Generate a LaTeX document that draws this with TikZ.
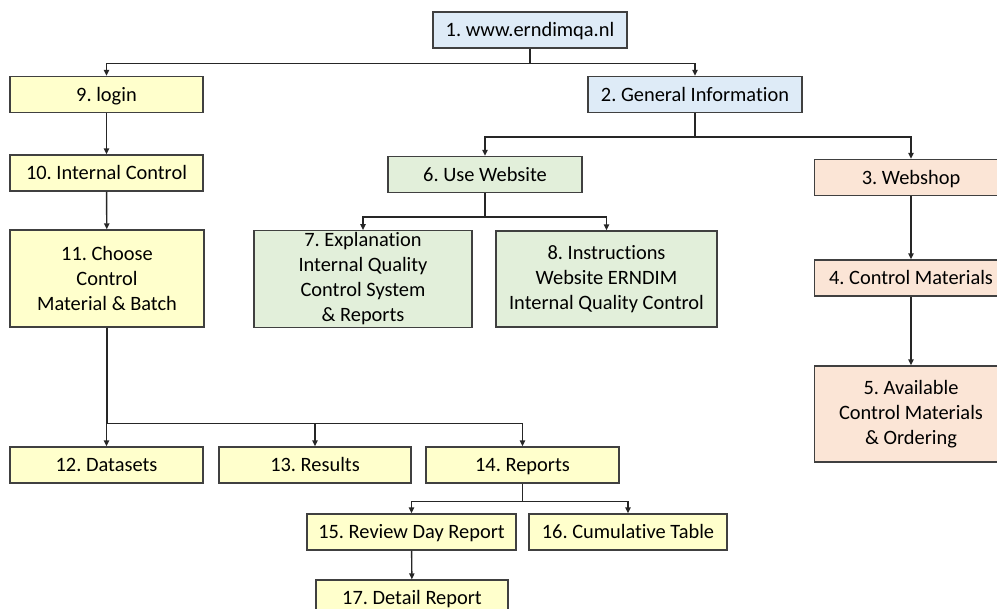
\documentclass[tikz,border=0pt]{standalone}
\usepackage{fontspec}
\setmainfont{Carlito}[Ligatures=NoCommon]
\usepackage{tikz}
\usetikzlibrary{positioning,arrows.meta}
\frenchspacing

\definecolor{bluebox}{HTML}{DEEBF7}
\definecolor{greenbox}{HTML}{E2EFDA}
\definecolor{peachbox}{HTML}{FBE5D6}
\definecolor{yellowbox}{HTML}{FFFFCC}

\begin{document}
\begin{tikzpicture}[x=0.5pt, y=-0.5pt, font=\fontsize{10.2}{12.5}\selectfont,
    >={Triangle[length=3pt,width=2.6pt]},
    box/.style = {draw=black!75, line width=0.6pt, align=center, inner sep=1pt, minimum width=96.5pt, minimum height=18pt},
    one/.style = {text height=8pt, text depth=1.4pt},
    blu/.style = {box, fill=bluebox},
    grn/.style = {box, fill=greenbox},
    pch/.style = {box, fill=peachbox},
    yel/.style = {box, fill=yellowbox},
    link/.style = {->, draw=black!85, line width=0.7pt}]
            \clip (0,0) rectangle (997,609);
            \node[blu, one, minimum width=97pt] (1) at (530,30) {1. www.erndimqa.nl};
            \node[blu, one, minimum width=107pt] (2) at (695,94.5) {2. General Information};
            \node[pch, one] (3) at (911,177.5) {3. Webshop};
            \node[pch, one] (4) at (911,278) {4. Control Materials};
            \node[pch, minimum height=48pt] (5) at (911,414) {5. Available\\Control Materials\\\& Ordering};
            \node[grn, one, minimum width=97pt] (6) at (485,174.5) {6. Use Website};
            \node[grn, minimum width=109pt, minimum height=48pt] (7) at (363,279) {7. Explanation\\Internal Quality\\Control System\\\& Reports};
            \node[grn, minimum width=110.5pt, minimum height=48pt] (8) at (606.5,279) {8. Instructions\\Website ERNDIM\\Internal Quality Control};
            \node[yel, one] (9) at (106.5,94.5) {9. login};
            \node[yel, one] (10) at (106.5,173) {10. Internal Control};
            \node[yel, minimum width=97pt, minimum height=48.5pt] (11) at (107,278.5) {11. Choose\\Control\\Material \& Batch};
            \node[yel, one] (12) at (106.5,465) {12. Datasets};
            \node[yel, one, minimum width=96pt] (13) at (315,465) {13. Results};
            \node[yel, one] (14) at (522.5,465) {14. Reports};
            \node[yel, one, minimum width=104.5pt] (15) at (411.5,532) {15. Review Day Report};
            \node[yel, one, minimum width=99pt] (16) at (628,532) {16. Cumulative Table};
            \node[yel, one, minimum width=96pt] (17) at (412,598) {17. Detail Report};

            \draw[link] (1.south) -- ++(0,15) -| (9.north);
            \draw[link] (1.south) -- ++(0,15) -| (2.north);
            \draw[link] (2.south) -- ++(0,24) -| (6.north);
            \draw[link] (2.south) -- ++(0,24) -| (3.north);
            \draw[link] (3) -- (4);
            \draw[link] (4) -- (5);
            \draw[link] (6.south) -- ++(0,24) -| (7.north);
            \draw[link] (6.south) -- ++(0,24) -| (8.north);
            \draw[link] (9) -- (10);
            \draw[link] (10) -- (11);
            \draw[link] (11.south) -- ++(0,96) -| (12.north);
            \draw[link] (11.south) -- ++(0,96) -| (13.north);
            \draw[link] (11.south) -- ++(0,96) -| (14.north);
            \draw[link] (14.south) -- ++(0,18) -| (15.north);
            \draw[link] (14.south) -- ++(0,18) -| (16.north);
            \draw[link] (15) -- (17);
        \end{tikzpicture}
\end{document}
